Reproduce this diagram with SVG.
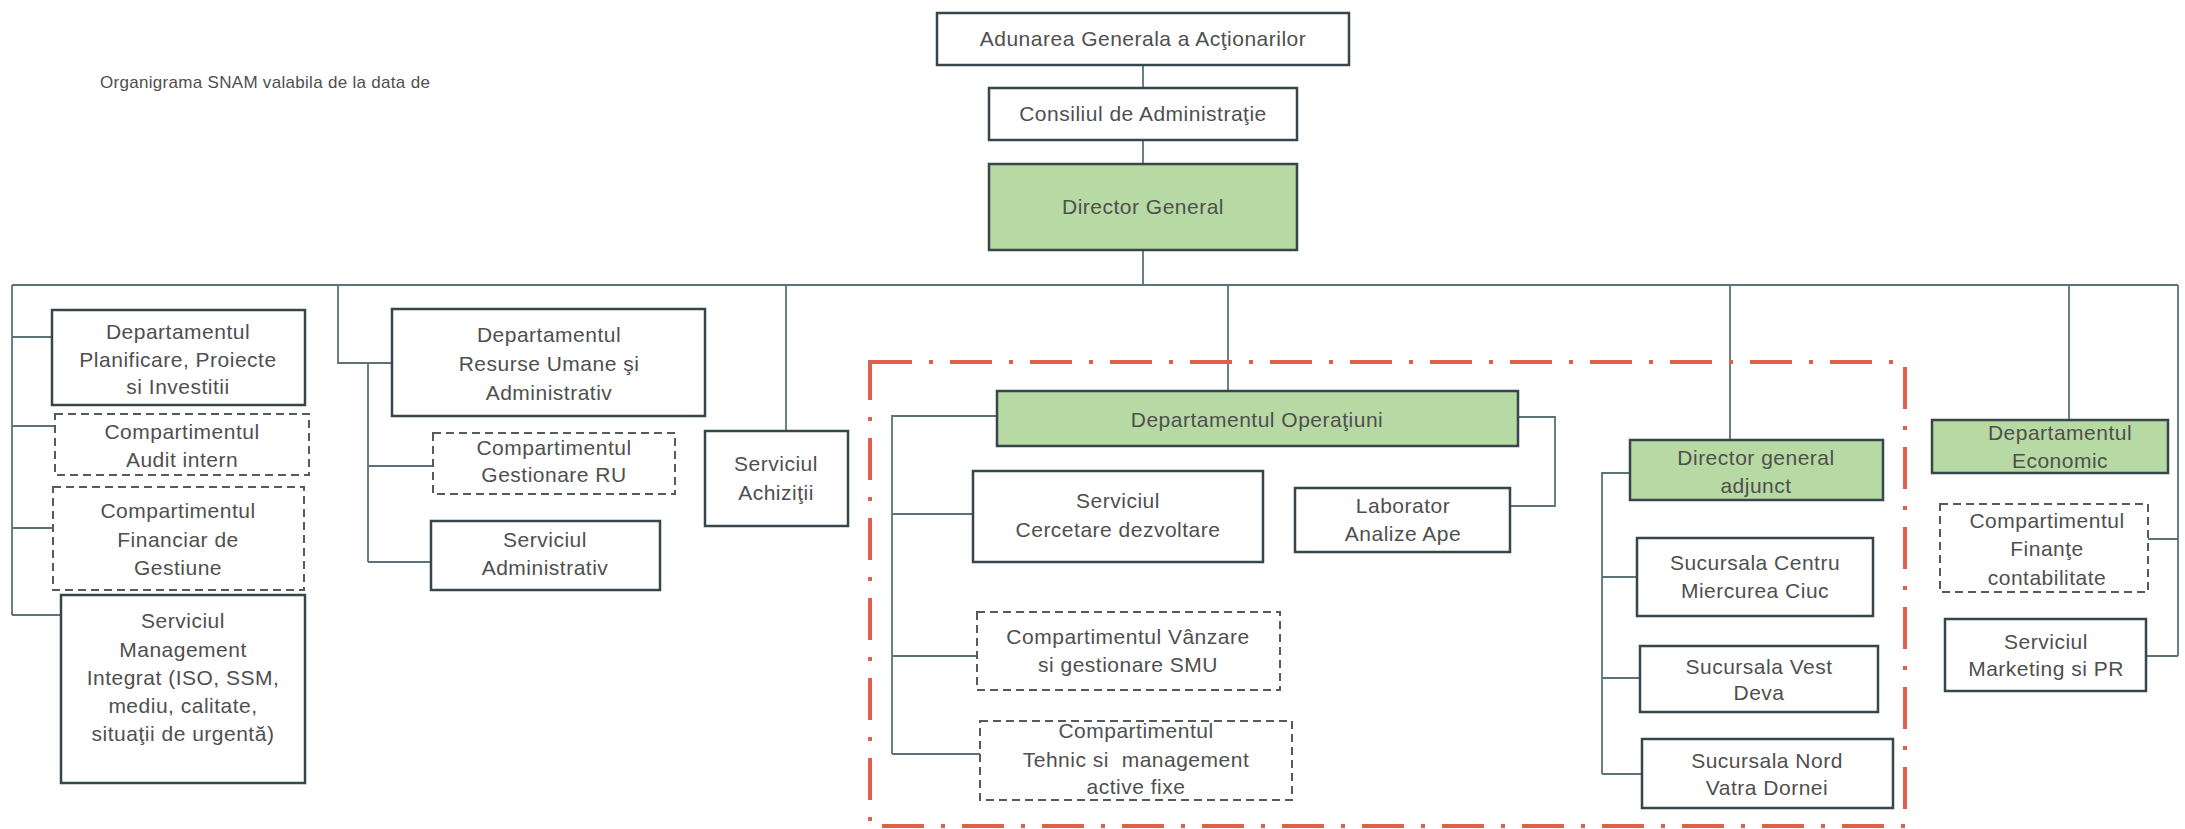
<svg xmlns="http://www.w3.org/2000/svg" width="2185" height="829" viewBox="0 0 2185 829">
<style>
.b{fill:#ffffff;stroke:#36464a;stroke-width:2.5}
.g{fill:#b7d9a3;stroke:#36464a;stroke-width:2.5}
.d{fill:#ffffff;stroke:#555a5c;stroke-width:2;stroke-dasharray:8 5}
.c{fill:none;stroke:#5a7378;stroke-width:1.8}
.r{fill:none;stroke:#e0604e;stroke-width:4;stroke-dasharray:42 17 4 17}
text{font-family:"Liberation Sans",Arial,sans-serif;font-size:21px;fill:#4f4f4f;text-anchor:middle;letter-spacing:0.5px}
.t{text-anchor:start;font-size:17px;letter-spacing:0.3px}
</style>
<rect width="2185" height="829" fill="#ffffff"/>
<text class="t" x="100" y="88">Organigrama SNAM valabila de la data de</text>

<g id="connectors">
<path class="c" d="M1143 65V88M1143 140V164M1143 250V285"/>
<path class="c" d="M12 285H2178"/>
<path class="c" d="M12 285V615M12 337H52M12 426H55M12 528H53M12 615H61"/>
<path class="c" d="M338 285V363H392M368 363V562M368 466H433M368 562H431"/>
<path class="c" d="M786 285V431"/>
<path class="c" d="M1228 285V391M997 416H892V754M892 514H973M892 656H977M892 754H980M1518 417H1555V506H1510"/>
<path class="c" d="M1730 285V440M1630 473H1602V774M1602 577H1637M1602 678H1640M1602 774H1642"/>
<path class="c" d="M2069 285V420M2178 285V656M2178 539H2148M2178 656H2146"/>
</g>

<rect id="boundary" class="r" x="870" y="362" width="1035" height="464"/>

<g id="n-aga"><rect class="b" x="937" y="13" width="412" height="52"/><text x="1143" y="46">Adunarea Generala a Acţionarilor</text></g>
<g id="n-ca"><rect class="b" x="989" y="88" width="308" height="52"/><text x="1143" y="121">Consiliul de Administraţie</text></g>
<g id="n-dg"><rect class="g" x="989" y="164" width="308" height="86"/><text x="1143" y="214">Director General</text></g>

<g id="n-ppi"><rect class="b" x="52" y="310" width="253" height="95"/><text x="178" y="339">Departamentul</text><text x="178" y="367">Planificare, Proiecte</text><text x="178" y="394">si Investitii</text></g>
<g id="n-audit"><rect class="d" x="55" y="414" width="254" height="61"/><text x="182" y="439">Compartimentul</text><text x="182" y="467">Audit intern</text></g>
<g id="n-fin"><rect class="d" x="53" y="487" width="251" height="103"/><text x="178" y="518">Compartimentul</text><text x="178" y="547">Financiar de</text><text x="178" y="575">Gestiune</text></g>
<g id="n-smi"><rect class="b" x="61" y="595" width="244" height="188"/><text x="183" y="628">Serviciul</text><text x="183" y="657">Management</text><text x="183" y="685">Integrat (ISO, SSM,</text><text x="183" y="713">mediu, calitate,</text><text x="183" y="741">situaţii de urgentă)</text></g>

<g id="n-ru"><rect class="b" x="392" y="309" width="313" height="107"/><text x="549" y="342">Departamentul</text><text x="549" y="371">Resurse Umane şi</text><text x="549" y="400">Administrativ</text></g>
<g id="n-gru"><rect class="d" x="433" y="433" width="242" height="61"/><text x="554" y="455">Compartimentul</text><text x="554" y="482">Gestionare RU</text></g>
<g id="n-adm"><rect class="b" x="431" y="521" width="229" height="69"/><text x="545" y="547">Serviciul</text><text x="545" y="575">Administrativ</text></g>

<g id="n-ach"><rect class="b" x="705" y="431" width="143" height="95"/><text x="776" y="471">Serviciul</text><text x="776" y="500">Achiziţii</text></g>

<g id="n-op"><rect class="g" x="997" y="391" width="521" height="55"/><text x="1257" y="427">Departamentul Operaţiuni</text></g>
<g id="n-cd"><rect class="b" x="973" y="471" width="290" height="91"/><text x="1118" y="508">Serviciul</text><text x="1118" y="537">Cercetare dezvoltare</text></g>
<g id="n-lab"><rect class="b" x="1295" y="488" width="215" height="64"/><text x="1403" y="513">Laborator</text><text x="1403" y="541">Analize Ape</text></g>
<g id="n-vz"><rect class="d" x="977" y="612" width="303" height="78"/><text x="1128" y="644">Compartimentul Vânzare</text><text x="1128" y="672">si gestionare SMU</text></g>
<g id="n-teh"><rect class="d" x="980" y="721" width="312" height="79"/><text x="1136" y="738">Compartimentul</text><text x="1136" y="767" xml:space="preserve">Tehnic si  management</text><text x="1136" y="794">active fixe</text></g>

<g id="n-dga"><rect class="g" x="1630" y="440" width="253" height="60"/><text x="1756" y="465">Director general</text><text x="1756" y="493">adjunct</text></g>
<g id="n-sc"><rect class="b" x="1637" y="538" width="236" height="78"/><text x="1755" y="570">Sucursala Centru</text><text x="1755" y="598">Miercurea Ciuc</text></g>
<g id="n-sv"><rect class="b" x="1640" y="646" width="238" height="66"/><text x="1759" y="674">Sucursala Vest</text><text x="1759" y="700">Deva</text></g>
<g id="n-sn"><rect class="b" x="1642" y="739" width="251" height="69"/><text x="1767" y="768">Sucursala Nord</text><text x="1767" y="795">Vatra Dornei</text></g>

<g id="n-ec"><rect class="g" x="1932" y="420" width="236" height="53"/><text x="2060" y="440">Departamentul</text><text x="2060" y="468">Economic</text></g>
<g id="n-fc"><rect class="d" x="1940" y="504" width="208" height="88"/><text x="2047" y="528">Compartimentul</text><text x="2047" y="556">Finanţe</text><text x="2047" y="585">contabilitate</text></g>
<g id="n-mk"><rect class="b" x="1945" y="619" width="201" height="72"/><text x="2046" y="649">Serviciul</text><text x="2046" y="676">Marketing si PR</text></g>
</svg>
